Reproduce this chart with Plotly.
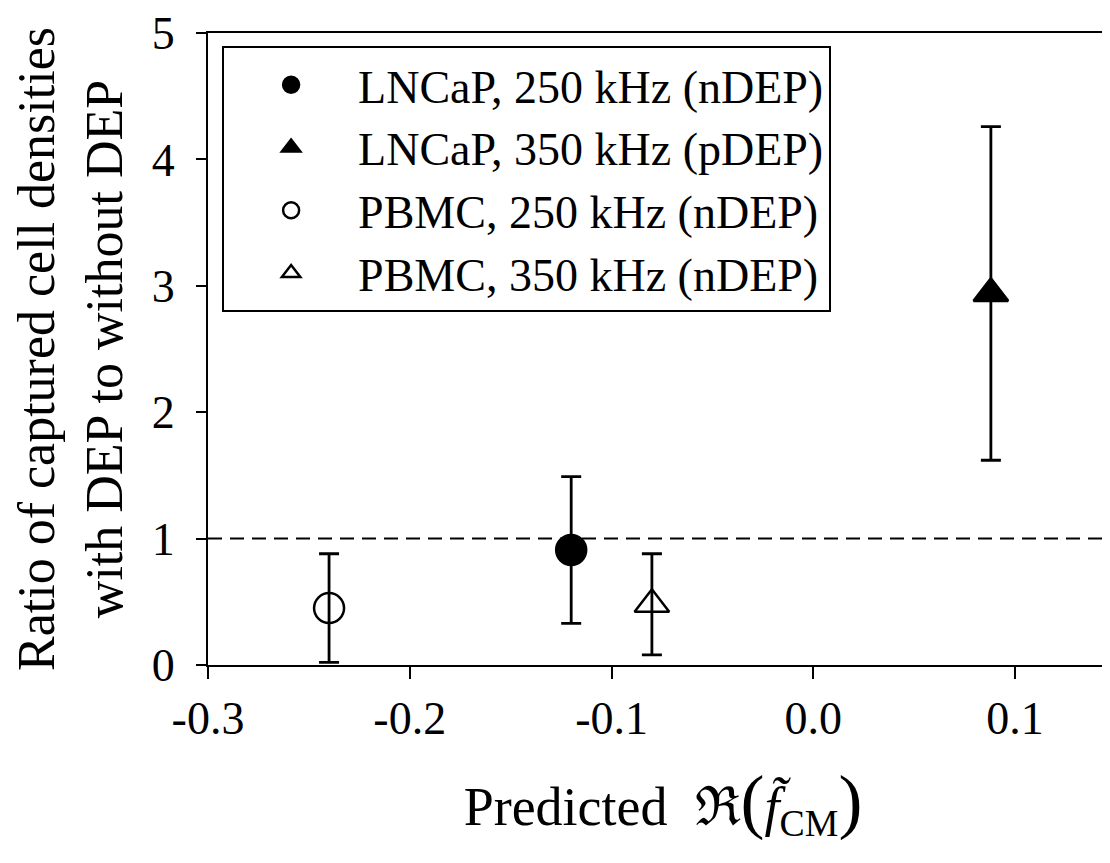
import plotly.graph_objects as go

names = ["LNCaP, 250 kHz (nDEP)", "LNCaP, 350 kHz (pDEP)",
         "PBMC, 250 kHz (nDEP)", "PBMC, 350 kHz (nDEP)"]
x_vals = [-0.12, 0.088, -0.24, -0.08]
y_vals = [0.91, 2.94, 0.45, 0.48]
err_vals = [0.58, 1.32, 0.43, 0.40]
symbols = ["circle", "triangle-up", "circle-open", "triangle-up-open"]

FONT = "Liberation Serif"

fig = go.Figure()
for n, x, y, e, s in zip(names, x_vals, y_vals, err_vals, symbols):
    fig.add_trace(go.Scatter(
        x=[x], y=[y], name=n, mode="markers",
        marker=dict(symbol=s, size=30, color="black",
                    line=dict(color="black", width=2.5)),
        error_y=dict(type="data", array=[e], visible=True,
                     color="black", thickness=2.8, width=10),
    ))

fig.add_hline(y=1, line=dict(color="black", width=2, dash="14px,8px"))

# page body has an 8px default margin, so margins are offset by 8px
fig.update_layout(
    width=1110, height=863,
    margin=dict(l=200, r=0, t=25, b=206, autoexpand=False),
    paper_bgcolor="white", plot_bgcolor="white",
    font=dict(family=FONT, color="black", size=46),
    showlegend=True,
    legend=dict(x=0.0155, y=0.979, xanchor="left", yanchor="top",
                bordercolor="black", borderwidth=2, bgcolor="white",
                font=dict(size=46, family=FONT), itemwidth=124,
                tracegroupgap=0),
    xaxis=dict(range=[-0.3, 0.151], tickvals=[-0.3, -0.2, -0.1, 0.0, 0.1],
               ticktext=["-0.3", "-0.2", "-0.1", "0.0", "0.1"],
               showgrid=False, zeroline=False, showline=True, mirror=True,
               linecolor="black", linewidth=2, ticks="outside", ticklen=12,
               tickwidth=2, tickcolor="black", tickfont=dict(size=46),
               automargin=False,
               title=dict(text="Predicted  \u211c<span style='font-size:72px'>(</span><i>f\u0303</i><sub>CM</sub><span style='font-size:72px'>)</span>",
                          font=dict(size=54), standoff=44)),
    yaxis=dict(range=[0, 5], tickvals=[0, 1, 2, 3, 4, 5],
               showgrid=False, zeroline=False, showline=True, mirror=True,
               linecolor="black", linewidth=2, ticks="outside", ticklen=10,
               tickwidth=2, tickcolor="black", tickfont=dict(size=46),
               ticklabelstandoff=12, automargin=False,
               title=dict(text="Ratio of captured cell densities<br>with DEP to without DEP",
                          font=dict(size=52), standoff=14)),
)

fig.write_html("out.html")
